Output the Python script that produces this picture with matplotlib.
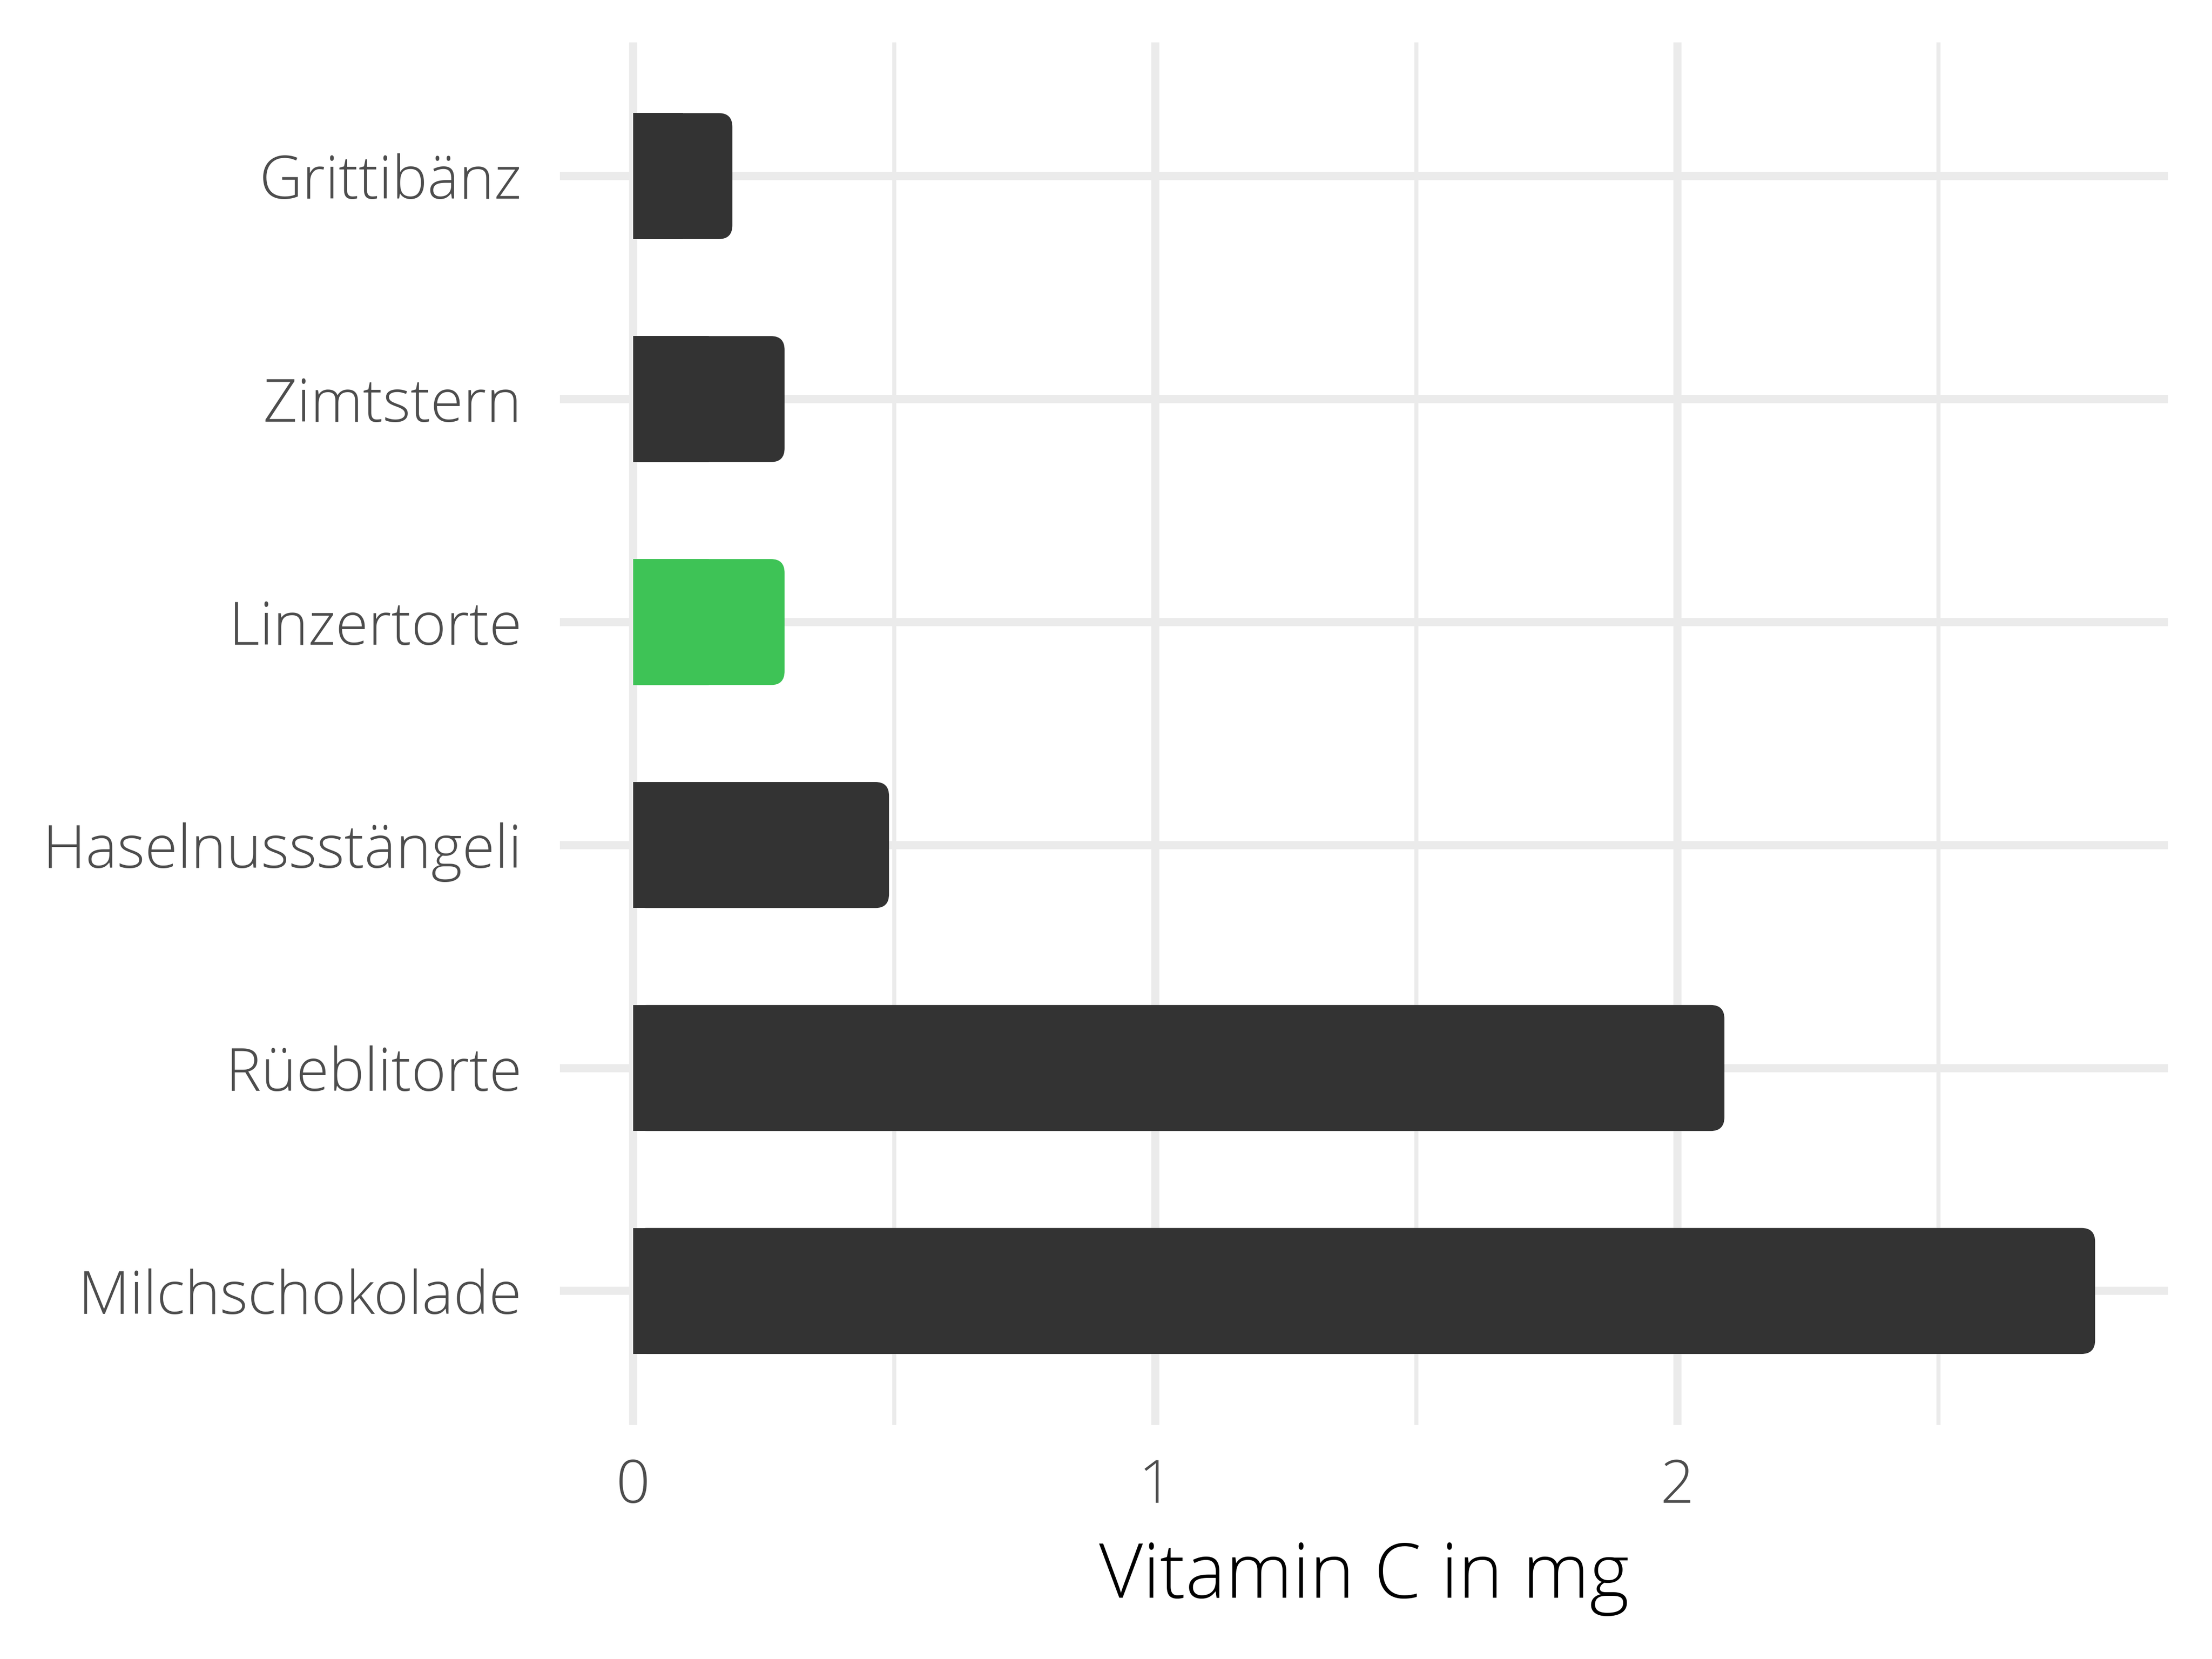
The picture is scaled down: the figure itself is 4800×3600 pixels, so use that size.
import matplotlib.pyplot as plt
from matplotlib.patches import FancyBboxPatch, Rectangle

# data (top to bottom as in the chart)
foods = ["Grittibänz", "Zimtstern", "Linzertorte", "Haselnussstängeli", "Rüeblitorte", "Milchschokolade"]
vitamin_c = [0.19, 0.29, 0.29, 0.49, 2.09, 2.8]
highlight = "Linzertorte"

dark = "#333333"
green = "#3EC356"
grid_col = "#EBEBEB"

plt.rcParams['font.family'] = ['Open Sans', 'DejaVu Sans']

fig = plt.figure(figsize=(16, 12), dpi=300)
ax = fig.add_axes([0.2532, 0.1412, 0.7270, 0.8333])

n = len(foods)
ypos = [n - 1 - i for i in range(n)]
xmin, xmax = -0.14, 2.94
ax.set_xlim(xmin, xmax)
ax.set_ylim(-0.6, n - 0.4)

# grid
for x in [0, 1, 2]:
    ax.axvline(x, color=grid_col, lw=4.2, zorder=0)
for x in [0.5, 1.5, 2.5]:
    ax.axvline(x, color=grid_col, lw=2.1, zorder=0)
for y in ypos:
    ax.axhline(y, color=grid_col, lw=4.2, zorder=0)

# rounded bars (right side rounded)
bar_h = 0.565
rx = 0.026
ry = 0.062
for name, val, y in zip(foods, vitamin_c, ypos):
    col = green if name == highlight else dark
    patch = FancyBboxPatch((0, y - bar_h / 2), val, bar_h,
                           boxstyle=f"round,pad=0,rounding_size={rx}",
                           mutation_aspect=ry / rx,
                           fc=col, ec="none", zorder=2)
    ax.add_patch(patch)
    ax.add_patch(Rectangle((0, y - bar_h / 2), val / 2, bar_h, fc=col, ec="none", zorder=2))

ax.set_yticks(ypos)
ax.set_yticklabels(foods)
ax.set_xticks([0, 1, 2])
ax.set_xticklabels(["0", "1", "2"])
ax.tick_params(axis='y', length=0, pad=20, labelsize=31, labelcolor="#4D4D4D")
ax.tick_params(axis='x', length=0, pad=17, labelsize=31, labelcolor="#4D4D4D")
for lab in ax.get_xticklabels() + ax.get_yticklabels():
    lab.set_fontweight("light")

ax.set_xlabel("Vitamin C in mg", fontsize=39.5, color="black", labelpad=12, fontweight="light")

for s in ax.spines.values():
    s.set_visible(False)

fig.savefig("out.png", dpi=300, facecolor="white")
